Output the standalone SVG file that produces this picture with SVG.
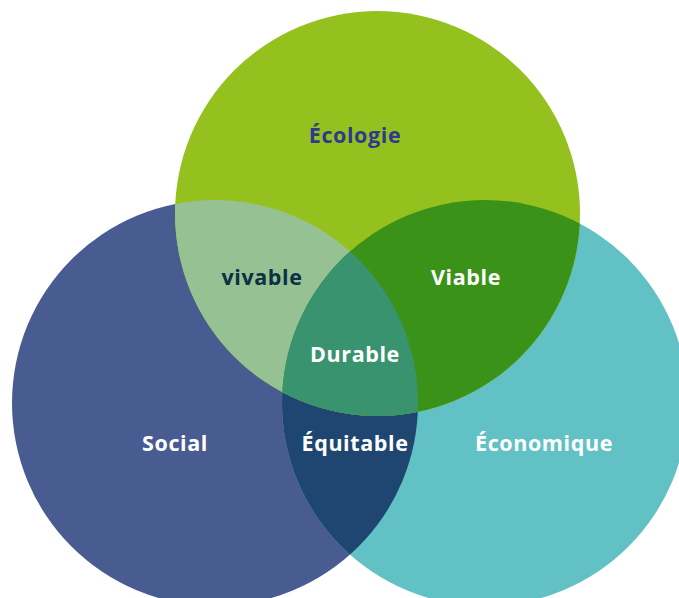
<svg xmlns="http://www.w3.org/2000/svg" width="679" height="598" viewBox="0 0 679 598">
<style>
.lbl{font-family:"Open Sans","Liberation Sans",sans-serif;font-weight:700;font-size:21.5px;letter-spacing:0.6px;text-anchor:middle}
.w{fill:#ffffff}
</style>
<defs>
<clipPath id="cSocial"><circle cx="215" cy="403" r="203"/></clipPath>
<clipPath id="cEcon"><circle cx="485" cy="403" r="203"/></clipPath>
<clipPath id="cEco"><circle cx="377.5" cy="213.5" r="202.5"/></clipPath>
</defs>
<rect width="679" height="598" fill="#ffffff"/>
<g id="social">
<circle cx="215" cy="403" r="203" fill="#485C91"/>
</g>
<g id="economique">
<circle cx="485" cy="403" r="203" fill="#62C1C4"/>
</g>
<g id="equitable" clip-path="url(#cSocial)">
<circle cx="485" cy="403" r="203" fill="#1F4670"/>
</g>
<g id="ecologie">
<circle cx="377.5" cy="213.5" r="202.5" fill="#95C11F"/>
</g>
<g id="vivable" clip-path="url(#cSocial)">
<circle cx="377.5" cy="213.5" r="202.5" fill="#96C192"/>
</g>
<g id="viable" clip-path="url(#cEcon)">
<circle cx="377.5" cy="213.5" r="202.5" fill="#3A9318"/>
</g>
<g id="durable" clip-path="url(#cEcon)">
<g clip-path="url(#cSocial)">
<circle cx="377.5" cy="213.5" r="202.5" fill="#39936F"/>
</g>
</g>
<g id="labels">
<text class="lbl" x="355" y="143" fill="#2E3A8E">Écologie</text>
<text class="lbl" x="262" y="285" fill="#0D3044">vivable</text>
<text class="lbl w" x="466" y="285">Viable</text>
<text class="lbl w" x="355" y="362">Durable</text>
<text class="lbl w" x="175" y="451">Social</text>
<text class="lbl w" x="355" y="451">Équitable</text>
<text class="lbl w" x="544" y="451">Économique</text>
</g>
</svg>
